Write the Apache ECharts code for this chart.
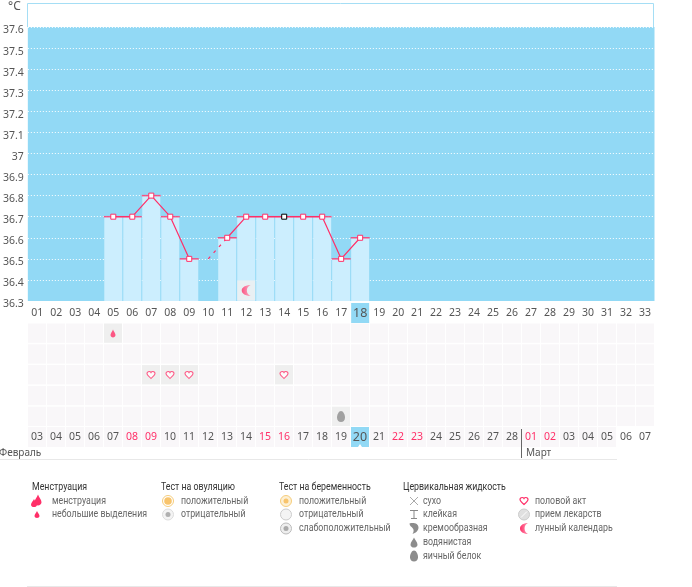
<!DOCTYPE html>
<html>
<head>
<meta charset="utf-8">
<script src="https://cdn.jsdelivr.net/npm/echarts@6/dist/echarts.min.js"></script>
<style>
html, body { margin: 0; padding: 0; background: #fff; }
#chart { width: 692px; height: 587px; }
</style>
</head>
<body>
<div id="chart"></div>
<script>
const FONT = '"Noto Sans", sans-serif'
const LEGEND_FONT = 'Roboto, sans-serif'
const TEXT = '#555'
const PINK = '#ff2f68'
const SKY = '#92d9f5'

// день цикла и календарная дата
const cycleDays = ['01','02','03','04','05','06','07','08','09','10','11','12','13','14','15','16','17','18','19','20','21','22','23','24','25','26','27','28','29','30','31','32','33']
const dates = ['03','04','05','06','07','08','09','10','11','12','13','14','15','16','17','18','19','20','21','22','23','24','25','26','27','28','01','02','03','04','05','06','07']
const weekendIdx = [5, 6, 12, 13, 19, 20, 26, 27]
const todayIdx = 17

// температура по дням цикла (индексы с 4)
const tempIdx = [4, 5, 6, 7, 8, 10, 11, 12, 13, 14, 15, 16, 17]
const tempVal = [36.7, 36.7, 36.8, 36.7, 36.5, 36.6, 36.7, 36.7, 36.7, 36.7, 36.7, 36.5, 36.6]
const guessIdx = [9, 10]
const guessVal = [36.5, 36.6]
const selectedIdx = 13

const moonDay = [11]
const moonLevel = 36.35

const rowNames = ['mens', 'ovul', 'sex', 'preg', 'fluid']
const dropCells = [[4, 0]]
const heartCells = [[6, 2], [7, 2], [8, 2], [13, 2]]
const eggCells = [[16, 4]]

const HEART = 'M12 21C5 15 1 11 1 7C1 3 4 1 7 1C9 1 11 2 12 4C13 2 15 1 17 1C20 1 23 3 23 7C23 11 19 15 12 21Z'
const DROP = 'M12 0C14 7 20 13 20 20C20 25 16 28 12 28C8 28 4 25 4 20C4 13 10 7 12 0Z'
const EGG = 'M12 0C18 0 23 9 23 17C23 24 18 28 12 28C6 28 1 24 1 17C1 9 6 0 12 0Z'
const MOON = 'M14 0C6 0 0 6 0 14C0 22 6 28 14 28C10 25 8 20 8 14C8 8 10 3 14 0Z'
const LEAF = 'M2 2C10 -1 20 2 20 12C20 20 14 26 8 28C11 22 11 17 8 13C6 10 2 8 2 2Z'

const legendGroups = [
  { title: 'Менструация', x: 32, iconX: 37, textX: 52, items: [['менструация', 'flow'], ['небольшие выделения', 'drop']] },
  { title: 'Тест на овуляцию', x: 161, iconX: 168, textX: 181, items: [['положительный', 'ovulPos'], ['отрицательный', 'ovulNeg']] },
  { title: 'Тест на беременность', x: 279, iconX: 286, textX: 299, items: [['положительный', 'pregPos'], ['отрицательный', 'pregNeg'], ['слабоположительный', 'pregWeak']] },
  { title: 'Цервикальная жидкость', x: 403, iconX: 414, textX: 423, items: [['сухо', 'dry'], ['клейкая', 'sticky'], ['кремообразная', 'creamy'], ['водянистая', 'watery'], ['яичный белок', 'egg']] },
  { title: '', x: 0, iconX: 524, textX: 535, items: [['половой акт', 'heart'], ['прием лекарств', 'pill'], ['лунный календарь', 'moon']] }
]
const legendRows = [501, 514.5, 528.5, 542.5, 556]

const moonFill = () => new echarts.graphic.LinearGradient(0, 0, 1, 0, [
  { offset: 0, color: PINK },
  { offset: 1, color: '#ff9ab5' }
])

function icon(kind, x, y) {
  const p = (d, w, h, fill, stroke, dx, dy) => ({
    type: 'path',
    shape: { pathData: d, x: x - w / 2 + (dx || 0), y: y - h / 2 + (dy || 0), width: w, height: h, layout: 'cover' },
    style: { fill: fill, stroke: stroke || null, lineWidth: stroke ? 1.2 : 0 }
  })
  const c = (r, fill, stroke) => ({ type: 'circle', shape: { cx: x, cy: y, r: r }, style: { fill: fill, stroke: stroke || null, lineWidth: 1 } })
  const l = (x1, y1, x2, y2, col) => ({ type: 'line', shape: { x1: x + x1, y1: y + y1, x2: x + x2, y2: y + y2 }, style: { stroke: col, lineWidth: 1 } })
  switch (kind) {
    case 'flow': return [p(DROP, 6, 8, PINK, null, -3, 2), p(DROP, 7, 11, PINK, null, 1, -1)]
    case 'drop': return [p(DROP, 5, 7, PINK)]
    case 'ovulPos': return [c(5.5, '#fff', '#f6cd7c'), c(3.8, '#f8c46c')]
    case 'ovulNeg': return [c(5.5, '#f4f4f4', '#ddd'), c(2.5, '#b0b0b0')]
    case 'pregPos': return [c(5.5, '#fdf0d4', '#f6cd7c'), c(2.5, '#f8c46c')]
    case 'pregNeg': return [c(5.5, '#f4f4f4', '#ccc')]
    case 'pregWeak': return [c(5.5, '#eee', '#bbb'), c(2.5, '#aaa')]
    case 'dry': return [l(-4, -4, 4, 4, '#aaa'), l(-4, 4, 4, -4, '#aaa')]
    case 'sticky': return [l(-4, -4, 4, -4, '#888'), l(0, -4, 0, 4, '#888'), l(-3, 4, 3, 4, '#888')]
    case 'creamy': return [p(LEAF, 9, 11, '#8c8c8c')]
    case 'watery': return [p(DROP, 7, 10, '#8c8c8c')]
    case 'egg': return [p(EGG, 8, 11, '#8c8c8c')]
    case 'heart': return [p(HEART, 8, 7, '#fff', PINK)]
    case 'pill': return [c(5.5, '#e0e0e0', '#ccc'), l(-3, 3, 3, -3, '#fff')]
    case 'moon': return [p(MOON, 8, 11, moonFill())]
  }
  return []
}

// шрифт в оригинале уже, поэтому текст сжат по горизонтали
const legendText = (text, x, y, fill) => ({
  type: 'text', x: x, y: y, scaleX: 0.88,
  style: { text: text, x: 0, y: 0, fill: fill, font: '10px ' + LEGEND_FONT, verticalAlign: 'middle' }
})

const legendEls = []
legendGroups.forEach(g => {
  if (g.title) legendEls.push(legendText(g.title, g.x, 487, '#333'))
  g.items.forEach((it, i) => {
    icon(it[1], g.iconX, legendRows[i]).forEach(el => legendEls.push(el))
    legendEls.push(legendText(it[0], g.textX, legendRows[i], '#666'))
  })
})

const symbol = d => 'path://' + d
const dayLabel = { color: TEXT, fontSize: 10.5, fontFamily: FONT, width: 18, height: 20, align: 'center', lineHeight: 20 }

const option = {
  animation: false,
  backgroundColor: '#fff',
  textStyle: { fontFamily: FONT },
  grid: [
    { left: 27.5, width: 627, top: 27, height: 274, show: true, backgroundColor: SKY, borderWidth: 0 },
    { left: 27.5, width: 627, top: 323, height: 104 }
  ],
  xAxis: [
    {
      type: 'category', gridIndex: 0, data: cycleDays,
      axisLine: { show: false }, axisTick: { show: false }, splitLine: { show: false },
      axisLabel: {
        interval: 0, margin: 2,
        formatter: (v, i) => i === todayIdx ? '{cur|' + v + '}' : '{d|' + v + '}',
        rich: {
          d: dayLabel,
          cur: { ...dayLabel, fontSize: 12.5, backgroundColor: SKY }
        }
      }
    },
    {
      type: 'category', gridIndex: 1, data: dates,
      axisLine: { show: false }, axisTick: { show: false }, splitLine: { show: false },
      axisLabel: {
        interval: 0, margin: 0,
        formatter: (v, i) => {
          if (i === todayIdx) return '{cur|' + v + '}'
          if (i > 30) return '{d|' + v + '}'
          return (weekendIdx.includes(i) ? '{red|' : '{cell|') + v + '}'
        },
        rich: {
          d: dayLabel,
          cell: { ...dayLabel, backgroundColor: '#f9f7f9' },
          red: { ...dayLabel, color: PINK, backgroundColor: '#f9f7f9' },
          cur: { ...dayLabel, fontSize: 12.5, backgroundColor: SKY }
        }
      }
    }
  ],
  yAxis: [
    {
      type: 'value', gridIndex: 0, min: 36.3, max: 37.6, interval: 0.1,
      name: '°C', nameLocation: 'end', nameGap: 14,
      nameTextStyle: { color: TEXT, fontSize: 12, align: 'right', padding: [0, 7, 0, 0] },
      axisLine: { show: false }, axisTick: { show: false },
      axisLabel: { color: TEXT, fontSize: 10.5, margin: 4, verticalAlign: 'top', lineHeight: 7 },
      splitLine: { show: true, lineStyle: { color: '#fff', type: [1, 2], width: 1 } }
    },
    {
      type: 'category', gridIndex: 1, data: rowNames, inverse: true, show: false
    }
  ],
  series: [
    {
      type: 'bar', xAxisIndex: 0, yAxisIndex: 0, barWidth: 18, z: 2,
      itemStyle: { color: '#cceefe' },
      data: tempIdx.map((d, i) => [d, tempVal[i]])
    },
    {
      // бледные клетки таблицы
      type: 'custom', xAxisIndex: 1, yAxisIndex: 1, z: 2,
      renderItem: (params, api) => {
        const pos = api.coord([api.value(0), api.value(1)])
        const size = api.size([1, 1])
        const on = api.value(2) === 1
        return {
          type: 'rect',
          shape: { x: pos[0] - 9, y: pos[1] - size[1] / 2 + 0.5, width: 18, height: size[1] - 1.5 },
          style: { fill: on ? '#efefef' : '#f9f7f9' }
        }
      },
      data: cycleDays.flatMap((_, c) => rowNames.map((_, r) => {
        const on = [...dropCells, ...heartCells, ...eggCells].some(p => p[0] === c && p[1] === r)
        return [c, r, on ? 1 : 0]
      }))
    },
    {
      type: 'scatter', xAxisIndex: 1, yAxisIndex: 1, z: 3, symbol: symbol(DROP), symbolSize: [5, 8],
      itemStyle: { color: PINK }, data: dropCells
    },
    {
      type: 'scatter', xAxisIndex: 1, yAxisIndex: 1, z: 3, symbol: symbol(HEART), symbolSize: [8, 7],
      itemStyle: { color: '#fff', borderColor: PINK, borderWidth: 1 }, data: heartCells
    },
    {
      type: 'scatter', xAxisIndex: 1, yAxisIndex: 1, z: 3, symbol: symbol(EGG), symbolSize: [8, 11],
      itemStyle: { color: '#8c8c8c' }, data: eggCells
    },
    {
      type: 'scatter', xAxisIndex: 0, yAxisIndex: 0, z: 3, symbol: 'rect', symbolSize: [18, 20],
      silent: true, itemStyle: { color: '#f0f0f0' }, data: moonDay.map(d => [d, moonLevel])
    },
    {
      type: 'scatter', xAxisIndex: 0, yAxisIndex: 0, z: 4, symbol: symbol(MOON), symbolSize: [9, 11],
      itemStyle: { color: moonFill() }, data: moonDay.map(d => [d, moonLevel])
    },
    {
      // розовые чёрточки на верхушках столбиков
      type: 'scatter', xAxisIndex: 0, yAxisIndex: 0, z: 4, symbol: 'rect', symbolSize: [19, 1.5],
      itemStyle: { color: PINK }, data: tempIdx.map((d, i) => [d, tempVal[i]])
    },
    {
      type: 'line', xAxisIndex: 0, yAxisIndex: 0, z: 5, showSymbol: false,
      lineStyle: { color: PINK, width: 1.2, type: [3, 5] },
      data: guessIdx.map((d, i) => [d, guessVal[i]])
    },
    {
      type: 'line', xAxisIndex: 0, yAxisIndex: 0, z: 6, symbol: 'rect', symbolSize: 5, showAllSymbol: true,
      lineStyle: { color: PINK, width: 1.2 },
      itemStyle: { color: '#fff', borderColor: PINK, borderWidth: 1 },
      data: tempIdx.slice(0, 5).map((d, i) => [d, tempVal[i]])
    },
    {
      type: 'line', xAxisIndex: 0, yAxisIndex: 0, z: 6, symbol: 'rect', symbolSize: 5, showAllSymbol: true,
      lineStyle: { color: PINK, width: 1.2 },
      itemStyle: { color: '#fff', borderColor: PINK, borderWidth: 1 },
      data: tempIdx.slice(5).map((d, i) => ({
        value: [d, tempVal[i + 5]],
        itemStyle: d === selectedIdx ? { borderColor: '#000' } : undefined
      }))
    },
    {
      // условные обозначения
      type: 'custom', coordinateSystem: 'none', silent: true,
      renderItem: () => ({ type: 'group', children: legendEls }),
      data: [0]
    }
  ],
  graphic: [
    { type: 'polyline', shape: { points: [[27.5, 27], [27.5, 3.5], [653.5, 3.5], [653.5, 27]] }, style: { stroke: '#a5def5', fill: null, lineWidth: 1 }, z: 1 },
    { type: 'line', shape: { x1: 0, y1: 459.5, x2: 617, y2: 459.5 }, style: { stroke: '#e8e8e8', lineWidth: 1 } },
    { type: 'line', shape: { x1: 521.5, y1: 429, x2: 521.5, y2: 458 }, style: { stroke: '#666', lineWidth: 1 } },
    { type: 'line', shape: { x1: 27, y1: 586.5, x2: 617, y2: 586.5 }, style: { stroke: '#e8e8e8', lineWidth: 1 } },
    { type: 'text', x: -1, y: 453, style: { text: 'Февраль', fill: TEXT, font: '10px ' + FONT, textVerticalAlign: 'middle' } },
    { type: 'text', x: 526, y: 453, style: { text: 'Март', fill: TEXT, font: '10px ' + FONT, textVerticalAlign: 'middle' } },
    { type: 'polygon', shape: { points: [[358, 447], [362, 447], [360, 444]] }, style: { fill: '#fff' }, z: 10 }
  ]
}

let chart = window.echarts.init(document.getElementById('chart'))
chart.setOption(option)
</script>
</body>
</html>
